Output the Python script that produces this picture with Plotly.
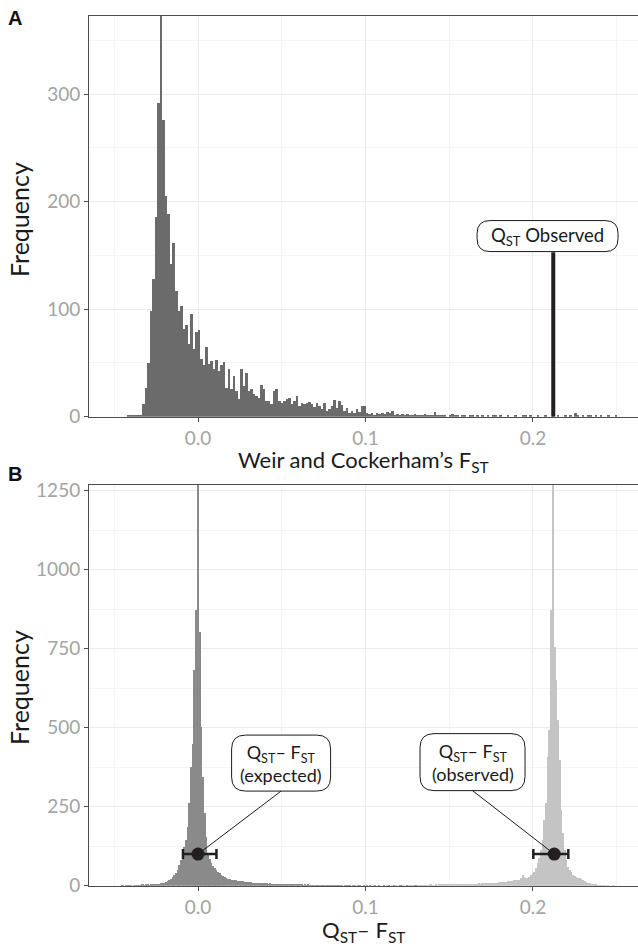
import plotly.graph_objects as go

# ---------------- data ----------------
# Panel A: histogram of Weir & Cockerham's F_ST (bin width 0.0015, first bin centre -0.0415)
fst_bin_start = -0.0415
fst_bin_width = 0.0015
fst_counts = [
    1, 1, 1, 1, 1,
    2, 12, 27, 50, 99, 128, 186, 292,
    560,
    276, 206, 189, 142, 162, 117, 99, 103, 82, 86,
    68, 96, 63, 79, 81, 54, 48, 65, 49, 52,
    45, 53, 43, 48, 51, 27, 45, 26, 38, 24,
    17, 45, 29, 41, 24, 26, 21, 20, 18, 30,
    26, 15, 15, 12, 24, 26, 15, 13, 15, 17,
    18, 12, 15, 20, 10, 13, 12, 13, 14, 12,
    9, 13, 10, 7, 13, 6, 7, 10, 16, 8,
    15, 11, 6, 8, 4, 6, 4, 7, 5, 10,
    10, 4, 3, 4, 2, 4, 3, 4, 3, 5,
    4, 6, 2, 3, 2, 3, 2, 3, 2, 2,
    3, 1, 2, 2, 3, 1, 2, 1, 5, 1,
    2, 2, 1, 0, 1, 3, 1, 2, 0, 1,
    1, 0, 1, 2, 0, 1, 0, 1, 0, 2,
    0, 1, 1, 0, 1, 0, 0, 1, 0, 0,
    1, 0, 0, 1, 2, 0, 1, 0, 0, 1,
    0, 0, 1, 0, 0, 1, 0, 1, 0, 0,
    2, 0, 1, 0, 4, 1, 0, 2, 0, 1,
    2, 0, 1, 0, 1, 0, 0, 1, 0, 0, 1,
]
qst_observed = 0.2121
qst_line_top = 153

# Panel B: Q_ST - F_ST expected (centred on 0) and observed distributions, bin width 0.001
diff_bin_width = 0.001
expected_bin_start = -0.045
expected_counts = [
    1, 0, 1, 1, 2, 1, 0, 2, 1, 2, 1, 2, 3, 2, 3,
    3, 2, 4, 3, 4, 5, 5, 6, 7, 7,
    9, 11, 14, 18, 22, 28, 34, 40, 50, 66, 81, 103, 123, 145, 187, 262, 377, 450, 683, 872,
    1500,
    804, 503, 345, 230, 155, 103, 85, 72, 62, 56,
    50, 44, 40, 34, 30, 27, 24, 22, 21, 19,
    18, 18, 17, 16, 15, 14, 14, 13, 13, 12,
    11, 11, 10, 10, 9, 9, 9, 8, 8, 7,
    7, 6, 7, 6, 6, 5, 6, 5, 5, 5,
    5, 4, 5, 4, 4, 4, 3, 4, 3, 3,
    3, 3, 2, 3, 2, 3, 2, 2, 2, 2,
    2, 1, 2, 2, 1, 2, 1, 1, 2, 1,
    1, 1, 1, 2, 1, 1, 0, 1, 1, 1,
    1, 0, 1, 1, 0, 1, 1, 0, 1, 0,
    1, 0, 1, 0, 0, 1, 0, 1, 0, 0,
    1, 0, 0, 1, 0, 0, 1, 0, 0, 0,
    1, 0, 0, 0, 1, 0, 0, 0, 0, 1,
]
observed_bin_start = 0.102
observed_counts = [
    0, 1, 0, 0, 1, 0, 1, 0, 0, 1,
    0, 1, 1, 0, 1, 0, 1, 1, 0, 1,
    1, 1, 0, 1, 1, 2, 1, 1, 2, 1,
    2, 1, 2, 2, 1, 2, 2, 3, 2, 2,
    3, 2, 3, 3, 3, 4, 3, 4, 4, 3,
    4, 4, 5, 4, 5, 4, 5, 5, 6, 5,
    5, 6, 6, 5, 6, 6, 7, 6, 7, 7,
    7, 7, 7, 8, 8, 8, 9, 10, 11, 12,
    12, 13, 13, 14, 14, 15, 16, 18, 17, 18,
    18, 24, 34, 26, 23, 25, 28, 34, 40, 44,
    56, 72, 88, 113, 145, 208, 262, 408, 493, 872,
    1500,
    756, 651, 525, 398, 240, 167, 113, 81, 60, 50,
    44, 34, 30, 28, 25, 23, 20, 18, 15, 12,
    10, 8, 6, 5, 4, 3, 2, 2, 1, 1,
    1, 0, 1, 0, 0, 1, 0, 0, 0, 0,
]
point_labels = ["expected", "observed"]
point_x = [0.0, 0.2127]
point_y = [100, 100]
point_err_minus = [0.009, 0.0125]
point_err_plus = [0.011, 0.0084]

x_tickvals = [0.0, 0.1, 0.2]
x_ticktext = ["0.0", "0.1", "0.2"]
x_minor = [-0.05, 0.05, 0.15, 0.25]
yA_tickvals = [0, 100, 200, 300]
yA_minor = [50, 150, 250, 350]
yB_tickvals = [0, 250, 500, 750, 1000, 1250]
yB_minor = [125, 375, 625, 875, 1125]

# ---------------- layout geometry ----------------
W, H = 638, 946
px_left, px_right = 89, 638
A_top, A_bot = 15.7, 416.7
B_top, B_bot = 485.0, 885.7
x_range = [-0.0651, 0.2627]
yA_range = [0, 373]
yB_range = [0, 1268]

sx = (px_right - px_left) / (x_range[1] - x_range[0])
syA = (A_bot - A_top) / (yA_range[1] - yA_range[0])
syB = (B_bot - B_top) / (yB_range[1] - yB_range[0])

FONT = "Lato"
TXT = "#1a1a1a"
TICKC = "#a3a3a3"

fig = go.Figure()

fst_x = [fst_bin_start + i * fst_bin_width for i in range(len(fst_counts))]
fig.add_trace(go.Bar(x=fst_x, y=fst_counts, width=fst_bin_width,
                     marker=dict(color="#6b6b6b", line=dict(width=0)),
                     xaxis="x", yaxis="y", showlegend=False, hoverinfo="skip"))
fig.add_trace(go.Scatter(x=[qst_observed, qst_observed], y=[0, qst_line_top], mode="lines",
                         line=dict(color="#231f20", width=4), xaxis="x", yaxis="y",
                         showlegend=False, hoverinfo="skip"))

exp_x = [expected_bin_start + i * diff_bin_width for i in range(len(expected_counts))]
obs_x = [observed_bin_start + i * diff_bin_width for i in range(len(observed_counts))]
fig.add_trace(go.Bar(x=obs_x, y=observed_counts, width=diff_bin_width,
                     marker=dict(color="#c4c4c4", line=dict(width=0)),
                     xaxis="x2", yaxis="y2", showlegend=False, hoverinfo="skip"))
fig.add_trace(go.Bar(x=exp_x, y=expected_counts, width=diff_bin_width,
                     marker=dict(color="#8a8a8a", line=dict(width=0)),
                     xaxis="x2", yaxis="y2", showlegend=False, hoverinfo="skip"))


def rbox(cx, cy, wpx, hpx, rpx, sy):
    hw = wpx / 2 / sx
    hh = hpx / 2 / sy
    rx = rpx / sx
    ry = rpx / sy
    x0, x1 = cx - hw, cx + hw
    y0, y1 = cy - hh, cy + hh
    return (f"M{x0+rx},{y0} L{x1-rx},{y0} Q{x1},{y0} {x1},{y0+ry} "
            f"L{x1},{y1-ry} Q{x1},{y1} {x1-rx},{y1} L{x0+rx},{y1} "
            f"Q{x0},{y1} {x0},{y1-ry} L{x0},{y0+ry} Q{x0},{y0} {x0+rx},{y0} Z")


# label boxes (centre in data units, size in px)
boxA = dict(cx=0.2087, cy=168, w=141, h=31, r=13)
boxes_B = [dict(cx=0.0496, cy=388, w=99, h=56, r=14),
           dict(cx=0.1639, cy=391, w=105, h=57, r=14)]

# leader lines in B
for i, b in enumerate(boxes_B):
    bottom = b["cy"] - b["h"] / 2 / syB
    fig.add_trace(go.Scatter(x=[point_x[i], b["cx"]], y=[point_y[i], bottom], mode="lines",
                             line=dict(color="#1a1a1a", width=1), xaxis="x2", yaxis="y2",
                             showlegend=False, hoverinfo="skip"))

fig.add_trace(go.Scatter(x=point_x, y=point_y, mode="markers",
                         marker=dict(color="#231f20", size=13),
                         error_x=dict(type="data", symmetric=False, array=point_err_plus,
                                      arrayminus=point_err_minus, color="#231f20",
                                      thickness=2.5, width=5),
                         xaxis="x2", yaxis="y2", showlegend=False, hoverinfo="skip"))

shapes = []
shapes.append(dict(type="path", xref="x", yref="y",
                   path=rbox(boxA["cx"], boxA["cy"], boxA["w"], boxA["h"], boxA["r"], syA),
                   fillcolor="white", line=dict(color="#1a1a1a", width=1), layer="above"))
for b in boxes_B:
    shapes.append(dict(type="path", xref="x2", yref="y2",
                       path=rbox(b["cx"], b["cy"], b["w"], b["h"], b["r"], syB),
                       fillcolor="white", line=dict(color="#1a1a1a", width=1), layer="above"))


def ann(text, x, y, xref, yref, size, family=FONT, color=TXT, angle=0):
    return dict(x=x, y=y, xref=xref, yref=yref, showarrow=False, text=text,
                xanchor="center", yanchor="middle", textangle=angle,
                font=dict(family=family, size=size, color=color))


annotations = [
    ann("Q<sub>ST</sub> Observed", boxA["cx"], boxA["cy"], "x", "y", 18.5),
    ann("Q<sub>ST</sub>– F<sub>ST</sub><br>(" + point_labels[0] + ")",
        boxes_B[0]["cx"], boxes_B[0]["cy"], "x2", "y2", 18),
    ann("Q<sub>ST</sub>– F<sub>ST</sub><br>(" + point_labels[1] + ")",
        boxes_B[1]["cx"], boxes_B[1]["cy"], "x2", "y2", 18),
    # panel tags
    ann("<b>A</b>", 15 / W, 1 - 18 / H, "paper", "paper", 20, family="Liberation Sans", color="#111"),
    ann("<b>B</b>", 15 / W, 1 - 474 / H, "paper", "paper", 20, family="Liberation Sans", color="#111"),
    # y titles
    ann("Frequency", 19 / W, 1 - 220 / H, "paper", "paper", 25, angle=-90),
    ann("Frequency", 19 / W, 1 - 688 / H, "paper", "paper", 25, angle=-90),
    # x titles
    ann("Weir and Cockerham’s F<sub>ST</sub>", (px_left + px_right) / 2 / W, 1 - 461 / H,
        "paper", "paper", 22),
    ann("Q<sub>ST</sub>– F<sub>ST</sub>", (px_left + px_right) / 2 / W, 1 - 931 / H,
        "paper", "paper", 22),
]


def xaxis_cfg(anchor):
    return dict(domain=[px_left / W, px_right / W], range=x_range, anchor=anchor,
                tickmode="array", tickvals=x_tickvals, ticktext=x_ticktext,
                tickfont=dict(family=FONT, size=19, color=TICKC),
                ticks="outside", ticklen=4, tickcolor="#4d4d4d", tickwidth=1,
                showgrid=True, gridcolor="#ebebeb", gridwidth=1.3,
                minor=dict(tickmode="array", tickvals=x_minor, showgrid=True,
                           gridcolor="#f4f4f4", gridwidth=0.8, ticks=""),
                showline=True, mirror=True, linecolor="#4d4d4d", linewidth=1,
                zeroline=False, automargin=False)


def yaxis_cfg(anchor, dom, rng, tv, mn):
    return dict(domain=dom, range=rng, anchor=anchor,
                tickmode="array", tickvals=tv, ticktext=[str(v) for v in tv],
                tickfont=dict(family=FONT, size=19, color=TICKC),
                ticks="outside", ticklen=4, tickcolor="#4d4d4d", tickwidth=1,
                showgrid=True, gridcolor="#ebebeb", gridwidth=1.3,
                minor=dict(tickmode="array", tickvals=mn, showgrid=True,
                           gridcolor="#f4f4f4", gridwidth=0.8, ticks=""),
                showline=True, mirror=True, linecolor="#4d4d4d", linewidth=1,
                zeroline=False, automargin=False)


fig.update_layout(
    width=W, height=H,
    margin=dict(l=0, r=0, t=0, b=0),
    paper_bgcolor="white", plot_bgcolor="white",
    bargap=0, barmode="overlay",
    xaxis=xaxis_cfg("y"),
    yaxis=yaxis_cfg("x", [1 - A_bot / H, 1 - A_top / H], yA_range, yA_tickvals, yA_minor),
    xaxis2=xaxis_cfg("y2"),
    yaxis2=yaxis_cfg("x2", [1 - B_bot / H, 1 - B_top / H], yB_range, yB_tickvals, yB_minor),
    shapes=shapes,
    annotations=annotations,
    font=dict(family=FONT),
)

fig.write_html("out.html")
